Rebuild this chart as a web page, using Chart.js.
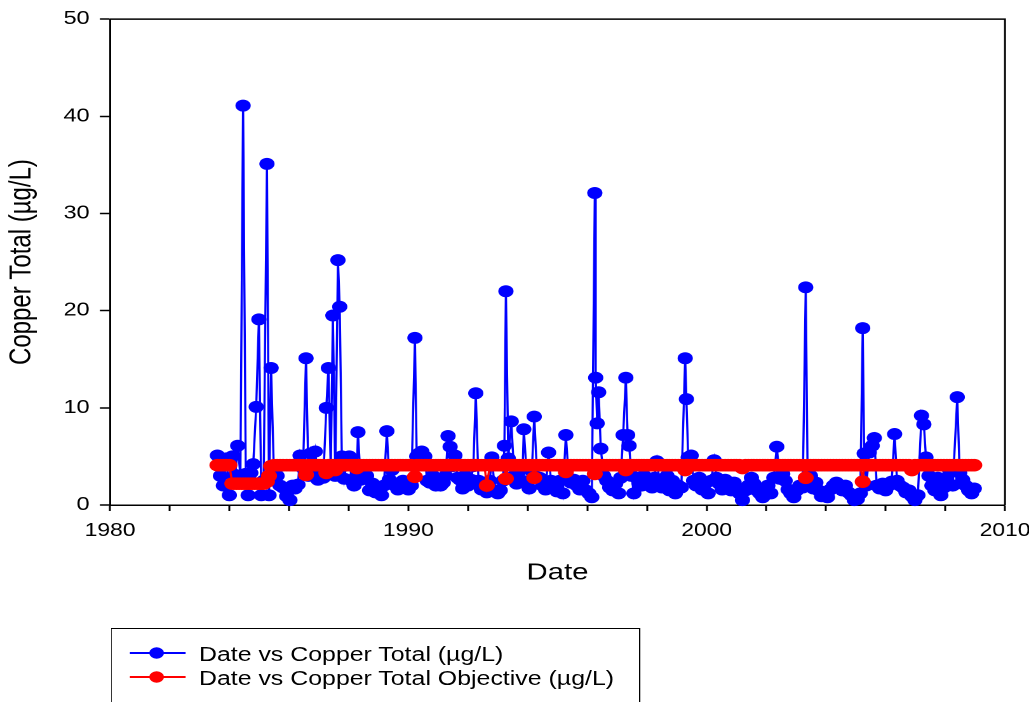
<!DOCTYPE html>
<html>
<head>
<meta charset="utf-8">
<script src="https://cdn.jsdelivr.net/npm/chart.js@4"></script>
<style>
  html, body { margin: 0; padding: 0; background: #fff; overflow: hidden; }
  /* the reference is stretched sideways, so draw at 810 wide and stretch to 1029 */
  #stage { position: absolute; left: 0; top: 0; width: 810px; height: 702px; transform: scaleX(1.27037); transform-origin: 0 0; }
  #chart { position: absolute; left: 0; top: 0; width: 810px; height: 702px; }
  #legendBox { position: absolute; left: 87.4px; top: 628px; width: 416.4px; height: 76px; border: 1.5px solid #000; box-sizing: border-box; }
  .row { position: absolute; left: 101.5px; height: 24px; font: 19.6px "Liberation Sans", Arial, sans-serif; line-height: 24px; white-space: nowrap; color: #000; }
  .row svg { position: absolute; left: 0; top: 4.3px; }
  .row span { position: absolute; left: 55.1px; top: 0; }
</style>
</head>
<body>
<div id="stage">
  <canvas id="chart" width="810" height="702"></canvas>
  <div id="legendBox"></div>
  <div class="row" style="top:641.7px">
    <svg width="45" height="14"><line x1="0" y1="7" x2="44.1" y2="7" stroke="#0000ff" stroke-width="1.8"/><circle cx="21.3" cy="7" r="5.8" fill="#0000ff"/></svg>
    <span id="lab1"></span>
  </div>
  <div class="row" style="top:665.7px">
    <svg width="45" height="14"><line x1="0" y1="7" x2="44.1" y2="7" stroke="#ff0000" stroke-width="1.8"/><circle cx="21.3" cy="7" r="5.8" fill="#ff0000"/></svg>
    <span id="lab2"></span>
  </div>
</div>
<script>
const seriesNames = ["Date vs Copper Total (µg/L)", "Date vs Copper Total Objective (µg/L)"];
const xTitle = "Date";
const yTitle = "Copper Total (µg/L)";
const xTicks = [1980, 1990, 2000, 2010];
const yTicks = [0, 10, 20, 30, 40, 50];

// sample dates (decimal years), one line per year
const dates = [
  1983.60, 1983.70, 1983.80, 1983.90,
  1984.00, 1984.10, 1984.20, 1984.28, 1984.37, 1984.46, 1984.55, 1984.63, 1984.72, 1984.80, 1984.90, 1984.99,
  1985.07, 1985.15, 1985.26, 1985.33, 1985.40, 1985.50, 1985.60, 1985.70, 1985.80, 1985.92,
  1986.03, 1986.12, 1986.20, 1986.30, 1986.37, 1986.47, 1986.57, 1986.65, 1986.72, 1986.80, 1986.88, 1986.97,
  1987.05, 1987.15, 1987.25, 1987.32, 1987.40, 1987.47, 1987.55, 1987.64, 1987.70, 1987.77, 1987.85, 1987.93,
  1988.02, 1988.10, 1988.18, 1988.27, 1988.31, 1988.40, 1988.50, 1988.60, 1988.70, 1988.80, 1988.90,
  1989.00, 1989.10, 1989.18, 1989.28, 1989.36, 1989.45, 1989.55, 1989.65, 1989.73, 1989.82, 1989.92,
  1990.00, 1990.10, 1990.22, 1990.28, 1990.36, 1990.45, 1990.55, 1990.63, 1990.72, 1990.82, 1990.92,
  1991.00, 1991.08, 1991.17, 1991.25, 1991.33, 1991.40, 1991.48, 1991.56, 1991.65, 1991.73, 1991.82, 1991.90,
  1992.00, 1992.10, 1992.18, 1992.26, 1992.35, 1992.45, 1992.55, 1992.63, 1992.73, 1992.80, 1992.90,
  1993.00, 1993.08, 1993.17, 1993.22, 1993.27, 1993.35, 1993.45, 1993.55, 1993.63, 1993.72, 1993.82, 1993.87, 1993.95,
  1994.05, 1994.14, 1994.22, 1994.30, 1994.40, 1994.50, 1994.60, 1994.70, 1994.78, 1994.88, 1994.98,
  1995.08, 1995.18, 1995.28, 1995.35, 1995.45, 1995.55, 1995.65, 1995.75, 1995.85, 1995.95,
  1996.05, 1996.15, 1996.25, 1996.28, 1996.33, 1996.38, 1996.45, 1996.55, 1996.65, 1996.75, 1996.85, 1996.95,
  1997.05, 1997.12, 1997.20, 1997.29, 1997.35, 1997.40, 1997.48, 1997.56, 1997.65, 1997.73, 1997.82, 1997.90,
  1998.00, 1998.08, 1998.17, 1998.25, 1998.33, 1998.42, 1998.50, 1998.58, 1998.67, 1998.75, 1998.85, 1998.95,
  1999.05, 1999.15, 1999.28, 1999.32, 1999.38, 1999.48, 1999.56, 1999.65, 1999.75, 1999.85, 1999.95,
  2000.05, 2000.15, 2000.25, 2000.33, 2000.42, 2000.52, 2000.62, 2000.72, 2000.82, 2000.92,
  2001.00, 2001.10, 2001.20, 2001.30, 2001.40, 2001.50, 2001.58, 2001.68, 2001.78, 2001.88, 2001.96,
  2002.05, 2002.15, 2002.25, 2002.35, 2002.45, 2002.55, 2002.63, 2002.73, 2002.82, 2002.92,
  2003.02, 2003.12, 2003.22, 2003.32, 2003.38, 2003.48, 2003.58, 2003.66, 2003.75, 2003.85, 2003.95,
  2004.05, 2004.15, 2004.25, 2004.35, 2004.45, 2004.55, 2004.65, 2004.75, 2004.85, 2004.95,
  2005.05, 2005.15, 2005.23, 2005.28, 2005.35, 2005.45, 2005.55, 2005.62, 2005.70, 2005.80, 2005.90,
  2006.00, 2006.10, 2006.20, 2006.30, 2006.38, 2006.48, 2006.58, 2006.68, 2006.78, 2006.88, 2006.98,
  2007.08, 2007.20, 2007.28, 2007.35, 2007.45, 2007.55, 2007.65, 2007.75, 2007.85, 2007.95,
  2008.05, 2008.15, 2008.25, 2008.40, 2008.48, 2008.58, 2008.68, 2008.78, 2008.88, 2008.97
];

const copper = [
  5.1, 3.0, 2.0, 4.8,
  1.0, 5.0, 3.1, 6.1, 3.0, 41.1, 3.2, 1.0, 3.3, 4.2, 10.1, 19.1,
  1.0, 2.5, 35.1, 1.0, 14.1, 2.5, 3.0, 2.0, 1.8, 0.9,
  0.5, 2.0, 1.7, 2.1, 5.1, 3.8, 15.1, 3.0, 5.3, 4.0, 5.5, 2.6,
  3.2, 2.8, 10.0, 14.1, 3.5, 19.5, 3.0, 25.2, 20.4, 5.0, 2.7, 4.3,
  5.0, 2.5, 2.0, 3.0, 7.5, 2.6, 3.5, 3.0, 1.5, 2.2, 1.3,
  1.5, 1.0, 2.0, 7.6, 2.6, 3.6, 2.0, 1.6, 2.0, 2.5, 1.8,
  1.6, 2.0, 17.2, 5.0, 5.3, 5.5, 5.0, 2.5, 2.3, 3.0, 2.0,
  2.2, 2.0, 2.3, 3.0, 7.1, 6.0, 4.0, 5.1, 2.8, 2.6, 1.7, 3.0,
  2.0, 2.6, 4.0, 11.5, 2.5, 1.6, 2.0, 1.3, 2.5, 4.9, 1.5,
  1.2, 1.5, 2.5, 6.1, 22.0, 4.8, 8.6, 3.0, 2.2, 3.5, 2.5, 7.8, 4.0,
  1.7, 3.5, 9.1, 4.0, 2.8, 2.0, 1.6, 5.4, 2.5, 1.7, 1.4,
  2.5, 1.2, 7.2, 4.0, 2.3, 2.6, 2.0, 1.6, 2.5, 1.5,
  1.2, 0.8, 32.1, 13.1, 8.4, 11.6, 5.8, 3.0, 2.5, 1.8, 1.5, 2.2,
  1.2, 2.8, 7.2, 13.1, 7.2, 6.1, 3.0, 1.2, 2.8, 2.3, 2.0, 3.0,
  2.2, 2.0, 1.8, 2.8, 4.5, 2.5, 1.8, 2.2, 3.0, 1.5, 2.5, 1.2,
  2.0, 1.8, 15.1, 10.9, 4.9, 5.1, 2.5, 2.0, 2.8, 1.6, 2.2,
  1.2, 2.5, 4.6, 2.8, 2.2, 1.6, 2.6, 2.0, 1.5, 2.3,
  1.8, 1.2, 0.5, 1.5, 2.0, 2.8, 2.2, 1.5, 1.2, 0.8, 1.6,
  2.0, 1.2, 2.8, 6.0, 2.7, 3.2, 2.5, 1.6, 1.2, 0.8,
  1.5, 2.0, 1.8, 22.4, 4.0, 3.0, 1.7, 2.3, 1.5, 0.9, 1.2,
  0.8, 1.6, 2.0, 2.3, 1.8, 1.5, 2.0, 1.3, 1.0, 0.5,
  0.6, 1.2, 18.2, 5.3, 2.0, 5.4, 6.1, 6.9, 2.0, 1.7, 2.2,
  1.5, 2.0, 2.4, 7.3, 2.5, 2.0, 1.8, 1.3, 1.5, 0.9, 0.5,
  1.0, 9.2, 8.3, 4.9, 3.0, 2.0, 1.5, 2.8, 1.0, 1.8,
  2.5, 3.5, 2.0, 11.1, 3.3, 2.6, 2.0, 1.5, 1.2, 1.7
];

const objective = [
  4.1, 4.1, 4.1, 4.1,
  4.1, 2.2, 2.2, 2.2, 2.2, 2.2, 2.2, 2.2, 2.2, 2.2, 2.2, 2.2,
  2.2, 2.2, 2.4, 3.0, 4.0, 4.1, 4.1, 4.1, 4.1, 4.1,
  4.1, 4.1, 4.1, 4.1, 4.1, 4.1, 3.1, 4.1, 4.1, 4.1, 4.1, 4.1,
  4.1, 4.1, 3.3, 4.1, 4.1, 4.1, 3.6, 4.1, 4.1, 4.1, 4.1, 4.1,
  4.1, 4.1, 4.1, 3.8, 4.1, 4.1, 4.1, 4.1, 4.1, 4.1, 4.1,
  4.1, 4.1, 4.1, 4.1, 4.1, 4.1, 4.1, 4.1, 4.1, 4.1, 4.1,
  4.1, 4.1, 2.9, 4.1, 4.1, 4.1, 4.1, 4.1, 4.1, 4.1, 4.1,
  4.1, 4.1, 4.1, 4.1, 4.1, 4.1, 4.1, 4.1, 4.1, 4.1, 4.1, 4.1,
  4.1, 4.1, 4.1, 4.1, 4.1, 4.1, 4.1, 2.0, 4.1, 4.1, 4.1,
  4.1, 4.1, 4.1, 4.1, 2.7, 4.1, 4.1, 4.1, 4.1, 4.1, 4.1, 4.1, 4.1,
  4.1, 4.1, 2.8, 4.1, 4.1, 4.1, 4.1, 4.1, 4.1, 4.1, 4.1,
  4.1, 4.1, 3.4, 4.1, 4.1, 4.1, 4.1, 4.1, 4.1, 4.1,
  4.1, 4.1, 3.2, 4.1, 4.1, 4.1, 4.1, 4.1, 4.1, 4.1, 4.1, 4.1,
  4.1, 4.1, 4.1, 3.6, 4.1, 4.1, 4.1, 4.1, 4.1, 4.1, 4.1, 4.1,
  4.1, 4.1, 4.1, 4.1, 4.1, 4.1, 4.1, 4.1, 4.1, 4.1, 4.1, 4.1,
  4.1, 4.1, 3.6, 4.1, 4.1, 4.1, 4.1, 4.1, 4.1, 4.1, 4.1,
  4.1, 4.1, 4.1, 4.1, 4.1, 4.1, 4.1, 4.1, 4.1, 4.1,
  4.1, 4.1, 3.8, 4.1, 4.1, 4.1, 4.1, 4.1, 4.1, 4.1, 4.1,
  4.1, 4.1, 4.1, 4.1, 4.1, 4.1, 4.1, 4.1, 4.1, 4.1,
  4.1, 4.1, 4.1, 2.8, 4.1, 4.1, 4.1, 4.1, 4.1, 4.1, 4.1,
  4.1, 4.1, 4.1, 4.1, 4.1, 4.1, 4.1, 4.1, 4.1, 4.1,
  4.1, 4.1, 2.4, 4.1, 4.1, 4.1, 4.1, 4.1, 4.1, 4.1, 4.1,
  4.1, 4.1, 4.1, 4.1, 4.1, 4.1, 4.1, 4.1, 4.1, 3.6, 4.1,
  4.1, 4.1, 4.1, 4.1, 4.1, 4.1, 4.1, 4.1, 4.1, 4.1,
  4.1, 4.1, 4.1, 4.1, 4.1, 4.1, 4.1, 4.1, 4.1, 4.1
];

const FONT = '"Liberation Sans", Arial, sans-serif';

document.getElementById("lab1").textContent = seriesNames[0];
document.getElementById("lab2").textContent = seriesNames[1];

// top and right edges of the plot box, drawn under the data
const frame = {
    id: "frame",
    beforeDatasetsDraw(chart) {
        const { ctx, chartArea: a } = chart;
        ctx.save();
        ctx.strokeStyle = "#000";
        ctx.lineWidth = 1.5;
        ctx.beginPath();
        ctx.moveTo(a.left, a.top);
        ctx.lineTo(a.right, a.top);
        ctx.lineTo(a.right, a.bottom);
        ctx.stroke();
        ctx.restore();
    }
};

const toPoints = (ys) => dates.map((d, i) => ({ x: d, y: ys[i] }));

new Chart(document.getElementById("chart").getContext("2d"), {
    type: "line",
    data: {
        datasets: [{
            label: seriesNames[0],
            data: toPoints(copper),
            borderColor: "#0000ff",
            backgroundColor: "#0000ff",
            borderWidth: 1.7,
            pointRadius: 6,
            pointBorderWidth: 0,
            pointBackgroundColor: "#0000ff",
            tension: 0,
            clip: false,
            order: 2
        }, {
            label: seriesNames[1],
            data: toPoints(objective),
            borderColor: "#ff0000",
            backgroundColor: "#ff0000",
            borderWidth: 1.7,
            pointRadius: 6.3,
            pointBorderWidth: 0,
            pointBackgroundColor: "#ff0000",
            tension: 0,
            clip: false,
            order: 1
        }]
    },
    options: {
        responsive: false,
        animation: false,
        devicePixelRatio: 2,
        layout: { padding: { top: 17, right: 18.9, bottom: 97, left: 0 } },
        plugins: {
            legend: { display: false },
            tooltip: { enabled: false }
        },
        scales: {
            x: {
                type: "linear",
                min: 1980,
                max: 2010,
                afterFit(s) { s.height = 100; s.paddingLeft = 0; s.paddingRight = 0; },
                ticks: {
                    stepSize: 2,
                    autoSkip: false,
                    maxRotation: 0,
                    padding: 9,
                    color: "#000",
                    font: { family: FONT, size: 18 },
                    callback: (v) => (xTicks.includes(v) ? String(v) : "")
                },
                grid: { drawOnChartArea: false, tickLength: 6, tickWidth: 1.5, color: "#000" },
                border: { color: "#000", width: 1.5 },
                title: { display: true, text: xTitle, color: "#000", font: { family: FONT, size: 23 }, padding: { top: 0, bottom: 18 } }
            },
            y: {
                min: 0,
                max: 50,
                afterFit(s) { s.width = 86.6; },
                ticks: {
                    stepSize: 10,
                    padding: 8,
                    color: "#000",
                    font: { family: FONT, size: 18.5 },
                    callback: (v) => (yTicks.includes(v) ? String(v) : "")
                },
                grid: { drawOnChartArea: false, tickLength: 8, tickWidth: 1.5, color: "#000" },
                border: { color: "#000", width: 1.5 },
                title: { display: true, text: yTitle, color: "#000", font: { family: FONT, size: 24 }, padding: { top: 3, bottom: 0 } }
            }
        }
    },
    plugins: [frame]
});
</script>
</body>
</html>
